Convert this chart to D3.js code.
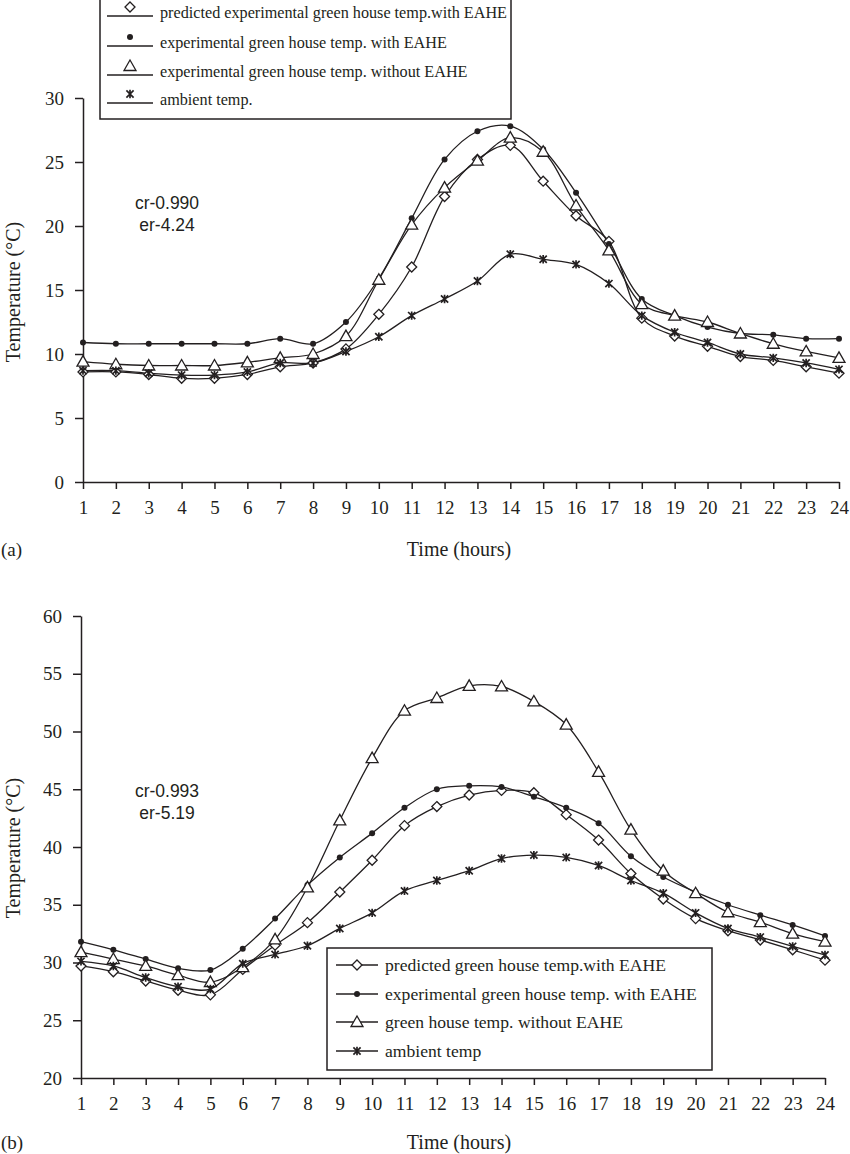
<!DOCTYPE html>
<html><head><meta charset="utf-8">
<script src="https://cdn.jsdelivr.net/npm/d3@7"></script>
<style>body{margin:0;background:#fff}svg{display:block}text{font-family:"Liberation Serif","Times New Roman",serif;fill:#231f20}</style>
</head><body><svg id="c" width="850" height="1154"></svg>
<script>
const hours = d3.range(1, 25);
// Chart (a)
const aPredicted = [8.6,8.6,8.4,8.1,8.1,8.4,9.0,9.3,10.4,13.1,16.8,22.3,25.2,26.3,23.5,20.8,18.8,12.8,11.4,10.6,9.8,9.5,9.0,8.5];
const aExpWith   = [10.9,10.8,10.8,10.8,10.8,10.8,11.2,10.8,12.5,15.9,20.6,25.2,27.4,27.8,26.0,22.6,18.6,14.3,13.0,12.1,11.6,11.5,11.2,11.2];
const aExpWithout= [9.4,9.2,9.1,9.1,9.1,9.35,9.7,10.0,11.4,15.8,20.1,23.0,25.1,26.9,25.8,21.6,18.1,13.9,13.0,12.5,11.6,10.8,10.2,9.7];
const aAmbient   = [8.7,8.7,8.5,8.35,8.35,8.6,9.3,9.3,10.2,11.35,13.0,14.3,15.7,17.8,17.4,17.0,15.5,13.0,11.7,10.9,10.0,9.7,9.3,8.8];
const aLegend = ["predicted experimental green house temp.with EAHE","experimental green house temp. with EAHE","experimental green house temp. without EAHE","ambient temp."];
const aTicksY = [0,5,10,15,20,25,30];
// Chart (b)
const bPredicted = [29.7,29.2,28.4,27.6,27.2,29.4,31.5,33.45,36.1,38.85,41.85,43.5,44.5,44.9,44.7,42.8,40.6,37.7,35.5,33.8,32.75,31.95,31.1,30.2];
const bExpWith   = [31.8,31.1,30.3,29.5,29.35,31.2,33.8,36.7,39.1,41.2,43.4,45.0,45.3,45.2,44.35,43.4,42.05,39.2,37.4,36.1,35.0,34.1,33.25,32.3];
const bWithout   = [30.9,30.3,29.7,28.9,28.3,29.6,32.0,36.5,42.3,47.7,51.8,52.9,53.95,53.9,52.6,50.6,46.5,41.5,37.95,36.0,34.35,33.5,32.5,31.8];
const bAmbient   = [30.1,29.7,28.7,27.9,27.7,29.9,30.7,31.45,32.95,34.3,36.2,37.1,37.95,39.0,39.3,39.1,38.4,37.1,36.0,34.3,32.95,32.2,31.4,30.65];
const bLegend = ["predicted green house temp.with EAHE","experimental green house temp. with EAHE","green house temp. without EAHE","ambient temp"];
const bTicksY = [20,25,30,35,40,45,50,55,60];

const svg = d3.select("#c");
const ink = "#231f20";
const markerTypes = ["diamond","dot","triangle","star"];

function drawMarker(g, type, x, y) {
  if (type === "diamond") {
    g.append("path").attr("d", `M${x},${y-5}L${x+5},${y}L${x},${y+5}L${x-5},${y}Z`).attr("fill","#fff").attr("stroke",ink).attr("stroke-width",1.3);
  } else if (type === "dot") {
    g.append("circle").attr("cx",x).attr("cy",y).attr("r",3).attr("fill",ink);
  } else if (type === "triangle") {
    g.append("path").attr("d", `M${x},${y-6}L${x+6},${y+4.5}L${x-6},${y+4.5}Z`).attr("fill","#fff").attr("stroke",ink).attr("stroke-width",1.3);
  } else {
    const r = 3.6;
    g.append("path").attr("d", `M${x-r},${y-r}L${x+r},${y+r}M${x-r},${y+r}L${x+r},${y-r}M${x},${y-r-0.6}L${x},${y+r+0.6}`).attr("stroke",ink).attr("stroke-width",1.7);
  }
}

function chart(o) {
  const x = d3.scaleLinear().domain([1,24]).range([o.x0, o.x1]);
  const y = d3.scaleLinear().domain([o.ticks[0], o.ticks[o.ticks.length-1]]).range([o.y0, o.y1]);
  const g = svg.append("g");
  const ya = g.append("g").attr("transform",`translate(${o.x0},0)`)
    .call(d3.axisLeft(y).tickValues(o.ticks).tickSize(8).tickSizeOuter(0).tickPadding(11).tickFormat(d3.format("d")));
  const xa = g.append("g").attr("transform",`translate(0,${o.y0})`)
    .call(d3.axisBottom(x).tickValues(hours).tickSize(7).tickSizeOuter(0).tickPadding(12).tickFormat(d3.format("d")));
  [ya, xa].forEach(a => {
    a.selectAll("path,line").attr("stroke", ink).attr("stroke-width", 1.5);
    a.selectAll("text").attr("font-size", 19).attr("font-family", '"Liberation Serif",serif').attr("fill", ink);
  });
  g.append("text").attr("transform",`translate(${o.ylabX},${o.ylabY}) rotate(-90)`).attr("text-anchor","middle").attr("font-size",20).text("Temperature (°C)");
  g.append("text").attr("x",459).attr("y",o.xlabY).attr("text-anchor","middle").attr("font-size",20).text("Time (hours)");
  g.append("text").attr("x",1).attr("y",o.xlabY).attr("font-size",19).text(o.tag);
  const sans = '"Liberation Sans",Arial,sans-serif';
  g.append("text").attr("x",167).attr("y",o.crY).attr("text-anchor","middle").attr("font-size",17.5).style("font-family",sans).text(o.cr);
  g.append("text").attr("x",167).attr("y",o.crY+22).attr("text-anchor","middle").attr("font-size",17.5).style("font-family",sans).text(o.er);
  const line = d3.line().x((d,i)=>x(hours[i])).y(d=>y(d)).curve(d3.curveCatmullRom.alpha(0.5));
  o.series.forEach(s => {
    g.append("path").attr("d", line(s)).attr("fill","none").attr("stroke",ink).attr("stroke-width",1.3);
  });
  o.series.forEach((s, k) => {
    const mg = g.append("g");
    s.forEach((v,i) => drawMarker(mg, markerTypes[k], x(hours[i]), y(v)));
  });
  const L = o.legend;
  const lg = g.append("g");
  lg.append("rect").attr("x",L.x).attr("y",L.y).attr("width",L.w).attr("height",L.h).attr("fill","#fff").attr("stroke",ink).attr("stroke-width",1.5);
  o.labels.forEach((t,k) => {
    const ry = L.rows[k];
    lg.append("line").attr("x1",L.lx0).attr("x2",L.lx1).attr("y1",ry+L.lineDy).attr("y2",ry+L.lineDy).attr("stroke",ink).attr("stroke-width",1.3);
    drawMarker(lg, markerTypes[k], (L.lx0+L.lx1)/2, ry+L.markDy);
    lg.append("text").attr("x",L.tx).attr("y",ry+5.5).attr("font-size",L.fs).text(t);
  });
}

chart({
  x0:83, x1:839, y0:482, y1:98, ticks:aTicksY,
  series:[aPredicted,aExpWith,aExpWithout,aAmbient], labels:aLegend,
  ylabX:20, ylabY:292, xlabY:556, tag:"(a)", crY:209, cr:"cr-0.990", er:"er-4.24",
  legend:{x:100,y:-2,w:411,h:121,rows:[12,42,71,99],lx0:107,lx1:153,tx:160,lineDy:4,markDy:-5,fs:16.2}
});
chart({
  x0:81, x1:825, y0:1078, y1:616, ticks:bTicksY,
  series:[bPredicted,bExpWith,bWithout,bAmbient], labels:bLegend,
  ylabX:20, ylabY:848, xlabY:1149, tag:"(b)", crY:797, cr:"cr-0.993", er:"er-5.19",
  legend:{x:327,y:948,w:385,h:122,rows:[965,994,1022,1051],lx0:336,lx1:378,tx:385,lineDy:0,markDy:0,fs:17.6}
});
</script></body></html>
